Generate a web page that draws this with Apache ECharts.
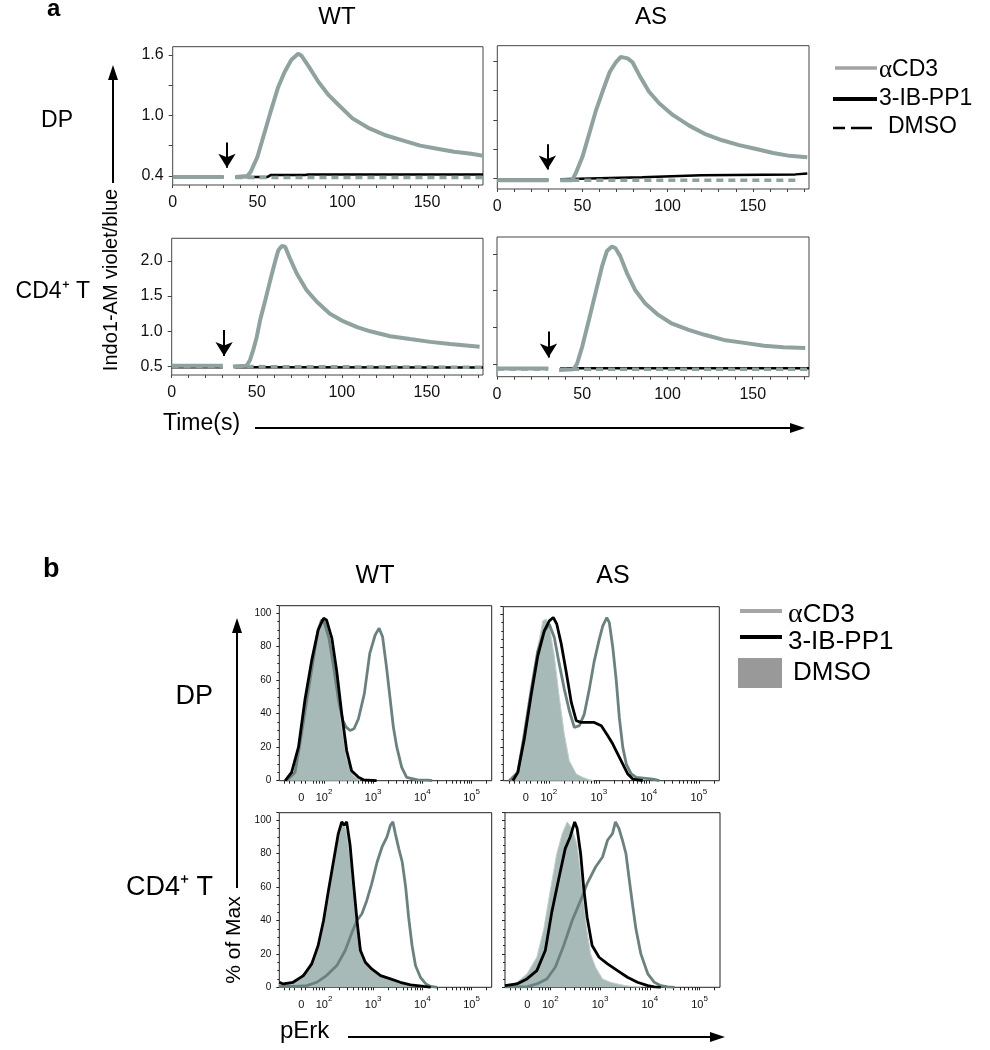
<!DOCTYPE html>
<html><head><meta charset="utf-8">
<script src="https://cdn.jsdelivr.net/npm/echarts@6/dist/echarts.min.js"></script>
<style>html,body{margin:0;padding:0;background:#fff}#c{width:990px;height:1050px}</style>
</head><body><div id="c"></div>
<script>
// ---------- Panel a data: time (s) vs Indo1-AM violet/blue ratio ----------
const wtDpAcd3 = [[0,0.39],[10,0.39],[20,0.39],[30,0.39],[33,'-'],[37,0.39],[44,0.40],[46,0.44],[50,0.59],[54,0.82],[58,1.05],[62,1.27],[66,1.43],[70,1.55],[74,1.61],[76,1.59],[80,1.49],[86,1.33],[92,1.20],[98,1.10],[106,0.97],[116,0.87],[126,0.80],[136,0.75],[146,0.70],[156,0.67],[166,0.64],[176,0.62],[183,0.60]];
const wtDp3ib  = [[0,0.39],[30,0.39],[33,'-'],[37,0.39],[56,0.39],[58,0.41],[78,0.41],[80,0.415],[132,0.415],[133,0.425],[135,0.415],[183,0.415]];
const wtDpDmso = [[0,0.39],[30,0.39],[33,'-'],[37,0.385],[183,0.385]];

const asDpAcd3 = [[0,0.38],[10,0.38],[20,0.38],[30,0.38],[33,'-'],[37,0.38],[44,0.38],[46,0.45],[50,0.62],[54,0.86],[58,1.10],[62,1.30],[66,1.49],[69.6,1.59],[72.5,1.645],[76.5,1.63],[79.4,1.59],[83.3,1.46],[89,1.29],[95,1.17],[103,1.05],[112.7,0.94],[122.5,0.85],[132,0.79],[142,0.74],[152,0.70],[162,0.66],[171.6,0.63],[182,0.615]];
const asDp3ib  = [[0,0.385],[30,0.385],[33,'-'],[37,0.39],[60,0.40],[85,0.41],[120,0.43],[175,0.44],[182,0.45]];
const asDpDmso = [[0,0.38],[30,0.38],[33,'-'],[37,0.38],[176,0.38]];

const wtCd4Acd3 = [[0,0.51],[15,0.51],[30,0.51],[33,'-'],[36,0.50],[44,0.51],[46,0.59],[48,0.74],[50,0.92],[52,1.16],[55,1.44],[58,1.73],[61,2.01],[62.7,2.15],[64.7,2.21],[66.7,2.20],[69.6,2.03],[73.5,1.82],[79.4,1.58],[85.3,1.42],[93,1.25],[101,1.14],[109,1.06],[116.7,1.00],[128.4,0.93],[140,0.89],[152,0.85],[163.7,0.82],[181,0.78]];
const wtCd43ib  = [[0,0.49],[30,0.49],[33,'-'],[37,0.49],[183,0.485]];
const wtCd4Dmso = [[0,0.50],[30,0.50],[33,'-'],[37,0.50],[183,0.49]];

const asCd4Acd3 = [[0,0.44],[15,0.44],[30,0.44],[33,'-'],[36.4,0.42],[45,0.43],[47,0.51],[50,0.74],[53.9,1.10],[57.8,1.47],[61.6,1.83],[64.5,2.04],[67.4,2.10],[69.4,2.08],[72.3,1.97],[76.2,1.74],[81,1.51],[86.8,1.33],[94.6,1.17],[102,1.06],[112,0.97],[121.7,0.90],[133,0.83],[145,0.79],[156.6,0.75],[168,0.73],[180.8,0.72]];
const asCd43ib  = [[0,0.445],[30,0.445],[33,'-'],[37,0.445],[183,0.445]];
const asCd4Dmso = [[0,0.435],[30,0.435],[33,'-'],[37,0.43],[183,0.43]];

// stimulation arrows (time, top value, arrow-head centre value)
const arrowX   = [32, 29.4, 30.8, 30.2];
const arrowTop = [0.73, 0.75, 1.02, 0.945];
const arrowEnd = [0.48, 0.49, 0.65, 0.59];

const aXLabels = [0, 50, 100, 150];
const aXTicks  = [0,10,20,30,40,50,60,70,80,90,100,110,120,130,140,150,160,170,180];
const dpYLabels  = [0.4, 1.0, 1.6];
const dpYTicks   = [0.4, 0.7, 1.0, 1.3, 1.6];
const cd4YLabels = [0.5, 1.0, 1.5, 2.0];
const cd4YTicks  = [0.5, 1.0, 1.5, 2.0];

// ---------- Panel b data: pErk (decades, log10) vs % of Max ----------
const wtDpDmsoB = [[1.24,0],[1.41,5],[1.51,20],[1.65,45],[1.78,70],[1.88,88],[1.95,96],[2.0,97],[2.05,93],[2.16,78],[2.26,55],[2.36,32],[2.46,13],[2.6,3],[2.73,0]];
const wtDp3ibB  = [[1.21,0],[1.34,5],[1.48,20],[1.61,48],[1.75,72],[1.88,90],[1.99,97],[2.05,96],[2.16,85],[2.26,65],[2.36,40],[2.46,18],[2.56,6],[2.7,2],[2.8,0.5],[3.07,0]];
const wtDpAcd3B = [[1.24,0],[1.41,5],[1.51,22],[1.65,48],[1.78,72],[1.88,90],[1.95,96],[2.0,95],[2.1,85],[2.2,67],[2.3,47],[2.38,36],[2.45,32],[2.53,30],[2.61,31],[2.7,37],[2.82,52],[2.93,76],[3.04,87],[3.12,91],[3.19,86],[3.27,68],[3.34,50],[3.41,32],[3.48,20],[3.58,8],[3.68,2],[3.9,0.5],[4.12,0.3],[4.2,0]];

const asDpDmsoB = [[1.21,0],[1.38,5],[1.51,25],[1.65,55],[1.78,80],[1.88,96],[1.95,97],[2.01,93],[2.11,75],[2.21,50],[2.31,28],[2.41,12],[2.55,4],[2.68,2],[2.81,0.5],[2.9,0]];
const asDp3ibB  = [[1.28,0],[1.38,5],[1.51,25],[1.65,52],[1.78,75],[1.91,90],[2.01,96],[2.09,98],[2.16,94],[2.25,82],[2.35,65],[2.45,47],[2.55,36],[2.65,35],[2.75,35],[2.91,35],[3.05,33],[3.18,27],[3.28,22],[3.38,16],[3.48,10],[3.58,4],[3.68,1],[3.88,0]];
const asDpAcd3B = [[1.21,0],[1.38,5],[1.51,28],[1.65,55],[1.78,78],[1.91,90],[2.01,94],[2.11,86],[2.21,70],[2.31,55],[2.41,42],[2.51,32],[2.61,33],[2.71,40],[2.81,55],[2.91,72],[3.01,85],[3.08,93],[3.16,98],[3.21,95],[3.28,80],[3.35,60],[3.41,38],[3.48,20],[3.55,10],[3.65,4],[3.75,2],[4.08,1],[4.21,0]];

const wtCd4DmsoB = [[1.09,2],[1.24,2],[1.44,4],[1.65,10],[1.85,22],[1.95,35],[2.05,52],[2.16,68],[2.26,85],[2.33,97],[2.40,99],[2.46,92],[2.53,78],[2.6,58],[2.67,40],[2.74,25],[2.8,17],[2.94,12],[3.08,8],[3.28,5],[3.49,3],[3.69,1.5],[3.9,0.5],[4.03,0]];
const wtCd43ibB  = [[1.09,3],[1.17,2],[1.37,3],[1.58,7],[1.75,14],[1.88,25],[1.99,40],[2.09,58],[2.19,75],[2.29,92],[2.36,99],[2.41,97],[2.46,99],[2.53,85],[2.6,62],[2.67,40],[2.74,22],[2.84,15],[2.97,11],[3.15,7],[3.35,5],[3.55,3],[3.76,1.5],[4.03,0.5],[4.17,0]];
const wtCd4Acd3B = [[1.09,0.5],[1.44,0.5],[1.65,1],[1.85,3],[2.05,7],[2.26,13],[2.43,22],[2.57,33],[2.67,40],[2.77,44],[2.87,52],[2.97,62],[3.08,75],[3.18,84],[3.28,90],[3.35,97],[3.40,99],[3.45,92],[3.52,83],[3.59,75],[3.66,60],[3.72,42],[3.79,25],[3.86,13],[3.96,6],[4.07,2],[4.17,0.5],[4.3,0]];

const asCd4DmsoB = [[1.09,1],[1.12,1],[1.33,3],[1.53,8],[1.73,18],[1.87,35],[2.0,58],[2.13,80],[2.24,92],[2.34,99],[2.44,95],[2.54,85],[2.64,60],[2.73,35],[2.81,20],[2.91,12],[3.05,5],[3.21,3],[3.42,1.5],[3.62,0.5],[3.82,0]];
const asCd43ibB  = [[1.09,1],[1.12,1],[1.33,2],[1.53,5],[1.73,10],[1.9,22],[2.03,45],[2.17,65],[2.3,83],[2.4,90],[2.49,99],[2.54,95],[2.61,80],[2.67,60],[2.74,42],[2.84,25],[2.98,18],[3.15,14],[3.35,10],[3.55,6],[3.75,3],[3.96,1],[4.09,0.3],[4.22,0]];
const asCd4Acd3B = [[1.09,0.3],[1.53,0.3],[1.73,2],[1.93,5],[2.1,12],[2.27,25],[2.44,40],[2.61,52],[2.74,62],[2.91,72],[3.05,78],[3.15,88],[3.25,92],[3.31,99],[3.38,95],[3.45,88],[3.52,80],[3.58,66],[3.65,50],[3.72,35],[3.82,20],[3.96,8],[4.09,3],[4.22,1],[4.36,0.3],[4.5,0]];

const bTickPos    = [1.54, 2, 3, 4, 5];
const bTickLabels = ['0', '10^2', '10^3', '10^4', '10^5'];
const bYLabelsInterval = 20;

// ---------- layout / styles ----------
const F = '"Liberation Sans", Arial, Helvetica, sans-serif';
const gridPos = [
  [172.7, 46.7, 310.3, 138.3], [497.3, 45.7, 311.7, 143.3],
  [171.7, 238.3, 311.3, 136.7], [497, 237, 312, 139.7],
  [279.3, 605.7, 212.4, 175], [503.3, 606.7, 216, 174],
  [279.3, 812.7, 212.4, 174.6], [505, 812.7, 215, 174.6]
];
const aYRange = [[0.31, 1.68], [0.29, 1.76], [0.38, 2.32], [0.33, 2.23]];
const aPanels = [
  [wtDpAcd3, wtDp3ib, wtDpDmso], [asDpAcd3, asDp3ib, asDpDmso],
  [wtCd4Acd3, wtCd43ib, wtCd4Dmso], [asCd4Acd3, asCd43ib, asCd4Dmso]
];
const bPanels = [
  [wtDpAcd3B, wtDp3ibB, wtDpDmsoB], [asDpAcd3B, asDp3ibB, asDpDmsoB],
  [wtCd4Acd3B, wtCd43ibB, wtCd4DmsoB], [asCd4Acd3B, asCd43ibB, asCd4DmsoB]
];
const A_GRAY = '#8fa29f';
const B_GRAY = '#6b817f';
const B_FILL = '#a8bab7';

const bXMin = 1.09, bXMax = 5.41;
const bXTicks = [];
for (let d = 1; d <= 5; d++) for (let k = 1; k <= 9; k++) {
  const v = Math.log10(k) + d;
  if (v >= bXMin && v <= bXMax && v > 1.7) bXTicks.push(v);
}
[1.2, 1.3, 1.4, 1.54, 1.62].forEach(v => bXTicks.push(v));

const grids = gridPos.map((g, i) => ({
  left: g[0], top: g[1], width: g[2], height: g[3], show: true,
  borderColor: i < 4 ? '#444' : '#222', borderWidth: 1, backgroundColor: 'transparent'
}));

const xAxes = [], yAxes = [], series = [];
for (let i = 0; i < 4; i++) {
  const dp = i < 2;
  xAxes.push({
    gridIndex: i, type: 'value', min: 0, max: 183,
    axisLine: { show: false }, splitLine: { show: false },
    axisTick: { show: true, length: 3, customValues: aXTicks, lineStyle: { color: '#444' } },
    axisLabel: { customValues: aXLabels, margin: 10, fontSize: 16, fontFamily: F, color: '#111' }
  });
  yAxes.push({
    gridIndex: i, type: 'value', min: aYRange[i][0], max: aYRange[i][1],
    axisLine: { show: false }, splitLine: { show: false },
    axisTick: { show: true, length: 4, customValues: dp ? dpYTicks : cd4YTicks, lineStyle: { color: '#444' } },
    axisLabel: { show: i % 2 === 0, customValues: dp ? dpYLabels : cd4YLabels,
      formatter: v => v.toFixed(1), margin: 9, fontSize: 16, fontFamily: F, color: '#111' }
  });
  const [ac, ib, dm] = aPanels[i];
  series.push({ name: '3-IB-PP1', type: 'line', xAxisIndex: i, yAxisIndex: i, data: ib,
    showSymbol: false, lineStyle: { color: '#000', width: 2.5 }, animation: false, silent: true });
  series.push({ name: 'DMSO', type: 'line', xAxisIndex: i, yAxisIndex: i, data: dm,
    showSymbol: false, lineStyle: { color: A_GRAY, width: 3.5, type: [7, 5] }, animation: false, silent: true });
  series.push({ name: 'αCD3', type: 'line', xAxisIndex: i, yAxisIndex: i, data: ac,
    showSymbol: false, lineStyle: { color: A_GRAY, width: 4 }, animation: false, silent: true,
    markLine: { silent: true, animation: false, symbol: ['none', 'arrow'], symbolSize: [13, 14],
      label: { show: false }, lineStyle: { color: '#000', width: 2, type: 'solid' },
      data: [[{ coord: [arrowX[i], arrowTop[i]] }, { coord: [arrowX[i], arrowEnd[i]] }]] }
  });
}
for (let j = 0; j < 4; j++) {
  const i = j + 4;
  xAxes.push({
    gridIndex: i, type: 'value', min: bXMin, max: bXMax,
    axisLine: { show: false }, splitLine: { show: false },
    axisTick: { show: true, length: 3, customValues: bXTicks, lineStyle: { color: '#222' } },
    axisLabel: {
      customValues: bTickPos, margin: 7, fontFamily: F, color: '#111',
      formatter: v => {
        let k = 0, best = 1e9;
        bTickPos.forEach((p, n) => { if (Math.abs(p - v) < best) { best = Math.abs(p - v); k = n; } });
        const s = bTickLabels[k];
        if (s.indexOf('^') < 0) return '{b|' + s + '}';
        const parts = s.split('^');
        return '{b|' + parts[0] + '}{s|' + parts[1] + '}';
      },
      rich: {
        b: { fontSize: 11, fontFamily: F, color: '#111', verticalAlign: 'bottom', lineHeight: 16 },
        s: { fontSize: 8, fontFamily: F, color: '#111', verticalAlign: 'top', lineHeight: 16 }
      }
    }
  });
  yAxes.push({
    gridIndex: i, type: 'value', min: 0, max: 104.5, interval: bYLabelsInterval,
    axisLine: { show: false }, splitLine: { show: false },
    axisTick: { show: true, length: 3, lineStyle: { color: '#222' } },
    minorTick: { show: true, splitNumber: 4, length: 2, lineStyle: { color: '#222' } },
    axisLabel: { show: j % 2 === 0, margin: 8, fontSize: 10, fontFamily: F, color: '#111',
      formatter: v => (v <= 100 ? String(v) : '') }
  });
  const [ac, ib, dm] = bPanels[j];
  series.push({ name: 'DMSO', type: 'line', xAxisIndex: i, yAxisIndex: i, data: dm,
    showSymbol: false, lineStyle: { color: '#c3cfcd', width: 1 }, areaStyle: { color: B_FILL, opacity: 1 },
    animation: false, silent: true });
  series.push({ name: 'αCD3', type: 'line', xAxisIndex: i, yAxisIndex: i, data: ac,
    showSymbol: false, lineStyle: { color: B_GRAY, width: 2.8 }, animation: false, silent: true });
  series.push({ name: '3-IB-PP1', type: 'line', xAxisIndex: i, yAxisIndex: i, data: ib,
    showSymbol: false, lineStyle: { color: '#000', width: 2.8 }, animation: false, silent: true });
}

function txt(x, y, text, size, opt) {
  opt = opt || {};
  return { type: 'text', x: x, y: y, rotation: opt.rot || 0, silent: true, z: 100,
    style: { text: text, fontSize: size, fontFamily: F, fontWeight: opt.bold ? 'bold' : 'normal',
      fill: '#000', align: opt.align || 'center', verticalAlign: 'middle', rich: opt.rich } };
}
function hLine(x1, x2, y, w, c, dash) {
  return { type: 'line', silent: true, z: 100, shape: { x1: x1, y1: y, x2: x2, y2: y },
    style: { stroke: c, lineWidth: w, lineDash: dash || null } };
}
function vLine(x, y1, y2, w, c) {
  return { type: 'line', silent: true, z: 100, shape: { x1: x, y1: y1, x2: x, y2: y2 }, style: { stroke: c, lineWidth: w } };
}
function poly(pts) {
  return { type: 'polygon', silent: true, z: 100, shape: { points: pts }, style: { fill: '#000' } };
}
const alphaRich = (sz) => ({ g: { fontFamily: '"Liberation Serif", "Times New Roman", serif', fontSize: sz + 2, fill: '#000' },
  t: { fontFamily: F, fontSize: sz, fill: '#000' } });

const graphic = [
  // panel a
  txt(47, 9, 'a', 24, { bold: true, align: 'left' }),
  txt(337, 17, 'WT', 24), txt(651, 17, 'AS', 24),
  txt(57, 121, 'DP', 23), txt(90, 292, 'CD4⁺ T', 23, { align: 'right' }),
  txt(111, 280, 'Indo1-AM violet/blue', 20, { rot: Math.PI / 2 }),
  vLine(113, 183, 78, 2, '#000'), poly([[113, 65], [108, 80], [118, 80]]),
  txt(163, 424, 'Time(s)', 23, { align: 'left' }),
  hLine(255, 792, 428, 2, '#000'), poly([[805, 428], [790, 423], [790, 433]]),
  hLine(835, 877, 68, 3.5, '#a3a3a3'),
  hLine(833, 877, 99, 4, '#000'),
  hLine(833, 845, 128, 2.5, '#000'), hLine(851, 872, 128, 2.5, '#000'),
  txt(879, 70, '{g|α}{t|CD3}', 23, { align: 'left', rich: alphaRich(23) }),
  txt(879, 99, '3-IB-PP1', 23, { align: 'left' }),
  txt(888, 127, 'DMSO', 23, { align: 'left' }),
  // panel b
  txt(43, 570, 'b', 27, { bold: true, align: 'left' }),
  txt(375, 576, 'WT', 25), txt(613, 576, 'AS', 25),
  txt(213, 697, 'DP', 27, { align: 'right' }),
  txt(213, 888, 'CD4⁺ T', 27, { align: 'right' }),
  txt(234, 940, '% of Max', 21, { rot: Math.PI / 2 }),
  vLine(237, 888, 631, 2, '#000'), poly([[237, 618], [232, 633], [242, 633]]),
  txt(280, 1031, 'pErk', 24, { align: 'left' }),
  hLine(348, 712, 1037, 2, '#000'), poly([[725, 1037], [710, 1032], [710, 1042]]),
  hLine(740, 782, 611, 4, '#a6a6a6'),
  hLine(740, 782, 637, 4, '#000'),
  { type: 'rect', silent: true, z: 100, shape: { x: 738, y: 658, width: 44, height: 30 }, style: { fill: '#999999' } },
  txt(788, 615, '{g|α}{t|CD3}', 26, { align: 'left', rich: alphaRich(26) }),
  txt(788, 642, '3-IB-PP1', 26, { align: 'left' }),
  txt(793, 673, 'DMSO', 26, { align: 'left' })
];

const chart = echarts.init(document.getElementById('c'), null, { renderer: 'canvas' });
chart.setOption({
  animation: false, backgroundColor: '#fff',
  grid: grids, xAxis: xAxes, yAxis: yAxes, series: series, graphic: graphic
});
</script></body></html>
